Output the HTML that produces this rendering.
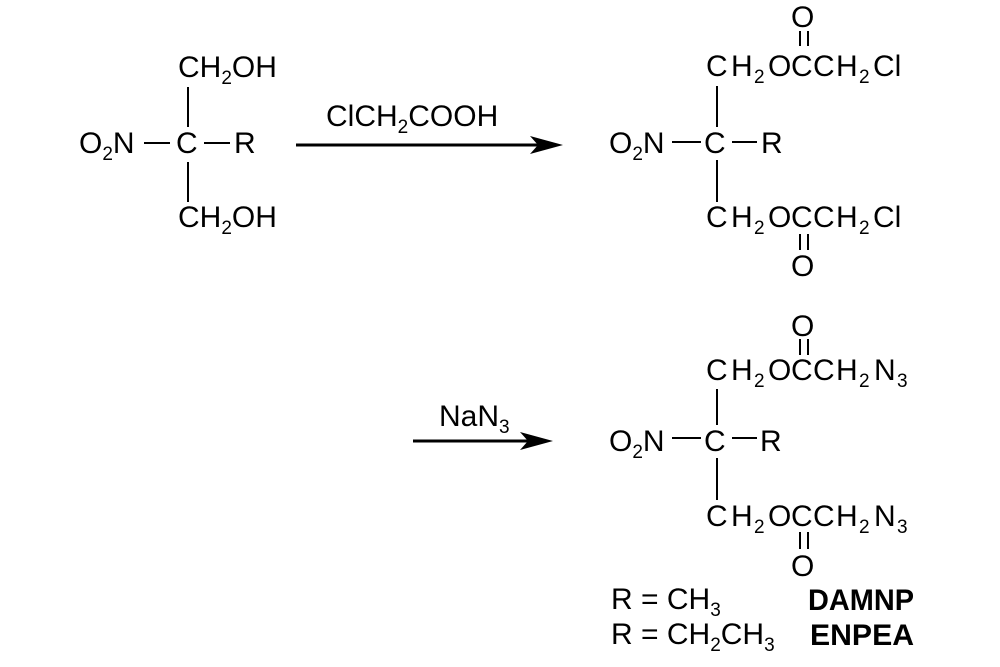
<!DOCTYPE html>
<html><head><meta charset="utf-8"><style>
html,body{margin:0;padding:0;background:#fff;}
svg{display:block;}
text{font-family:"Liberation Sans",Arial,sans-serif;font-size:30px;fill:#000;}
.s{font-size:19px;}
.b{font-weight:bold;}
line{stroke:#000;stroke-width:2;}
</style></head><body>
<svg width="1000" height="667" viewBox="0 0 1000 667" xmlns="http://www.w3.org/2000/svg">
<!-- Left molecule -->
<text x="178" y="77">CH<tspan class="s" dy="7">2</tspan><tspan dy="-7">OH</tspan></text>
<line x1="188" y1="87" x2="188" y2="127"/>
<text x="79" y="153">O<tspan class="s" dy="7">2</tspan><tspan dy="-7">N</tspan></text>
<line x1="144" y1="143" x2="170" y2="143"/>
<text x="176" y="153">C</text>
<line x1="204" y1="143" x2="230" y2="143"/>
<text x="234" y="153">R</text>
<line x1="188" y1="162" x2="188" y2="202"/>
<text x="178" y="227">CH<tspan class="s" dy="7">2</tspan><tspan dy="-7">OH</tspan></text>

<!-- Arrow 1 -->
<text x="326" y="126">ClCH<tspan class="s" dy="7">2</tspan><tspan dy="-7">COOH</tspan></text>
<line x1="296" y1="145" x2="540" y2="145" style="stroke-width:3"/>
<polygon points="530,136 563,145 530,154 538,145" fill="#000"/>

<!-- Product 1 -->
<text x="791" y="27">O</text>
<line x1="800" y1="31" x2="800" y2="46"/><line x1="808" y1="31" x2="808" y2="46"/>
<text y="76"><tspan x="706">C</tspan><tspan x="731">H</tspan><tspan x="754" class="s" dy="7">2</tspan><tspan x="768" dy="-7">O</tspan><tspan x="791">C</tspan><tspan x="813">C</tspan><tspan x="836">H</tspan><tspan x="859" class="s" dy="7">2</tspan><tspan x="873" dy="-7">Cl</tspan></text>
<line x1="717" y1="86" x2="717" y2="127"/>
<text x="609" y="153">O<tspan class="s" dy="7">2</tspan><tspan dy="-7">N</tspan></text>
<line x1="672" y1="142" x2="701" y2="142"/>
<text x="704" y="153">C</text>
<line x1="732" y1="142" x2="757" y2="142"/>
<text x="761" y="153">R</text>
<line x1="717" y1="160" x2="717" y2="202"/>
<text y="227"><tspan x="706">C</tspan><tspan x="731">H</tspan><tspan x="754" class="s" dy="7">2</tspan><tspan x="768" dy="-7">O</tspan><tspan x="791">C</tspan><tspan x="813">C</tspan><tspan x="836">H</tspan><tspan x="859" class="s" dy="7">2</tspan><tspan x="873" dy="-7">Cl</tspan></text>
<line x1="800" y1="234" x2="800" y2="250"/><line x1="808" y1="234" x2="808" y2="250"/>
<text x="791" y="276">O</text>

<!-- Arrow 2 -->
<text x="439" y="426">NaN<tspan class="s" dy="7">3</tspan></text>
<line x1="413" y1="441" x2="530" y2="441" style="stroke-width:3"/>
<polygon points="520,432 553,441 520,450 528,441" fill="#000"/>

<!-- Product 2 -->
<text x="791" y="336">O</text>
<line x1="800" y1="339" x2="800" y2="355"/><line x1="808" y1="339" x2="808" y2="355"/>
<text y="380"><tspan x="706">C</tspan><tspan x="731">H</tspan><tspan x="754" class="s" dy="7">2</tspan><tspan x="768" dy="-7">O</tspan><tspan x="791">C</tspan><tspan x="813">C</tspan><tspan x="836">H</tspan><tspan x="859" class="s" dy="7">2</tspan><tspan x="874" dy="-7">N</tspan><tspan x="897" class="s" dy="7">3</tspan></text>
<line x1="717" y1="389" x2="717" y2="425"/>
<text x="609" y="451">O<tspan class="s" dy="7">2</tspan><tspan dy="-7">N</tspan></text>
<line x1="672" y1="438" x2="701" y2="438"/>
<text x="704" y="451">C</text>
<line x1="732" y1="438" x2="757" y2="438"/>
<text x="760" y="451">R</text>
<line x1="717" y1="458" x2="717" y2="500"/>
<text y="526"><tspan x="706">C</tspan><tspan x="731">H</tspan><tspan x="754" class="s" dy="7">2</tspan><tspan x="768" dy="-7">O</tspan><tspan x="791">C</tspan><tspan x="813">C</tspan><tspan x="836">H</tspan><tspan x="859" class="s" dy="7">2</tspan><tspan x="874" dy="-7">N</tspan><tspan x="897" class="s" dy="7">3</tspan></text>
<line x1="800" y1="532" x2="800" y2="549"/><line x1="808" y1="532" x2="808" y2="549"/>
<text x="791" y="576">O</text>

<!-- Legend -->
<text x="611" y="609">R = CH<tspan class="s" dy="7">3</tspan></text>
<text x="611" y="644">R = CH<tspan class="s" dy="7">2</tspan><tspan dy="-7">CH</tspan><tspan class="s" dy="7">3</tspan></text>
<text x="808" y="610" class="b" textLength="106" lengthAdjust="spacingAndGlyphs">DAMNP</text>
<text x="810" y="645" class="b" textLength="104" lengthAdjust="spacingAndGlyphs">ENPEA</text>
</svg>
</body></html>
